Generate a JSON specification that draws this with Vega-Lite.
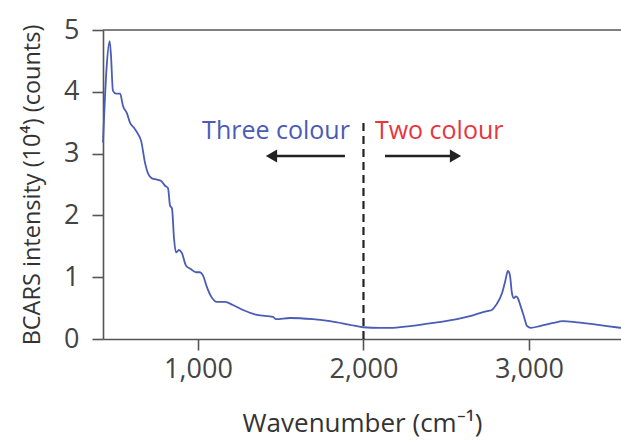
{
  "$schema": "https://vega.github.io/schema/vega-lite/v6.json",
  "width": 518,
  "height": 309,
  "autosize": "none",
  "padding": {"left": 103, "top": 30, "right": 0, "bottom": 104},
  "background": "white",
  "config": {
    "view": {"stroke": null},
    "font": "Open Sans",
    "axis": {
      "domainColor": "#555555",
      "domainWidth": 1.6,
      "tickColor": "#555555",
      "tickWidth": 1.6,
      "tickSize": 11,
      "labelColor": "#444444",
      "labelFont": "Open Sans",
      "labelFontSize": 27,
      "labelFontWeight": "normal",
      "titleColor": "#333333",
      "titleFont": "Open Sans",
      "titleFontWeight": "normal",
      "grid": false
    }
  },
  "datasets": {
    "spectrum": [
      {"wn": 426, "v": 3.18}, {"wn": 448, "v": 4.4}, {"wn": 466, "v": 4.82},
      {"wn": 474, "v": 4.6}, {"wn": 486, "v": 4.02}, {"wn": 505, "v": 3.97},
      {"wn": 529, "v": 3.97}, {"wn": 547, "v": 3.77}, {"wn": 571, "v": 3.65},
      {"wn": 589, "v": 3.5}, {"wn": 613, "v": 3.42}, {"wn": 637, "v": 3.32},
      {"wn": 656, "v": 3.21}, {"wn": 680, "v": 2.85}, {"wn": 698, "v": 2.68},
      {"wn": 722, "v": 2.6}, {"wn": 752, "v": 2.58}, {"wn": 776, "v": 2.56},
      {"wn": 801, "v": 2.48}, {"wn": 819, "v": 2.44}, {"wn": 831, "v": 2.16},
      {"wn": 843, "v": 2.11}, {"wn": 855, "v": 1.63}, {"wn": 867, "v": 1.4},
      {"wn": 885, "v": 1.44}, {"wn": 903, "v": 1.39}, {"wn": 927, "v": 1.19},
      {"wn": 958, "v": 1.13}, {"wn": 988, "v": 1.08}, {"wn": 1012, "v": 1.08},
      {"wn": 1030, "v": 1.03}, {"wn": 1054, "v": 0.84}, {"wn": 1079, "v": 0.69},
      {"wn": 1115, "v": 0.6}, {"wn": 1163, "v": 0.6}, {"wn": 1211, "v": 0.55},
      {"wn": 1272, "v": 0.47}, {"wn": 1356, "v": 0.39}, {"wn": 1453, "v": 0.36},
      {"wn": 1471, "v": 0.32}, {"wn": 1556, "v": 0.34}, {"wn": 1695, "v": 0.32},
      {"wn": 1798, "v": 0.29}, {"wn": 1918, "v": 0.23}, {"wn": 1997, "v": 0.19},
      {"wn": 2100, "v": 0.18}, {"wn": 2160, "v": 0.18}, {"wn": 2281, "v": 0.21},
      {"wn": 2444, "v": 0.27}, {"wn": 2565, "v": 0.32}, {"wn": 2643, "v": 0.37},
      {"wn": 2704, "v": 0.42}, {"wn": 2746, "v": 0.45}, {"wn": 2776, "v": 0.47},
      {"wn": 2801, "v": 0.55}, {"wn": 2837, "v": 0.74}, {"wn": 2855, "v": 0.92},
      {"wn": 2873, "v": 1.1}, {"wn": 2885, "v": 1.03}, {"wn": 2897, "v": 0.74},
      {"wn": 2909, "v": 0.66}, {"wn": 2921, "v": 0.69}, {"wn": 2933, "v": 0.66},
      {"wn": 2946, "v": 0.56}, {"wn": 2970, "v": 0.36}, {"wn": 2988, "v": 0.21},
      {"wn": 3012, "v": 0.18}, {"wn": 3066, "v": 0.21}, {"wn": 3145, "v": 0.26},
      {"wn": 3205, "v": 0.29}, {"wn": 3290, "v": 0.27}, {"wn": 3387, "v": 0.24},
      {"wn": 3471, "v": 0.21}, {"wn": 3556, "v": 0.18}
    ],
    "arrows": [
      {"from": 1888, "to": 1460, "y": 2.96, "head": 1444, "shape": "triangle-left"},
      {"from": 2130, "to": 2540, "y": 2.96, "head": 2556, "shape": "triangle-right"}
    ],
    "regions": [
      {"wn": 1918, "y": 3.24, "label": "Three colour", "align": "right", "colour": "#4a5cb5"},
      {"wn": 2069, "y": 3.24, "label": "Two colour", "align": "left", "colour": "#e8363f"}
    ],
    "frame": [{"x0": 426, "x1": 3556, "top": 5, "divider": 2000, "dbottom": 0, "dtop": 3.56}]
  },
  "layer": [
    {
      "data": {"name": "frame"},
      "mark": {"type": "rule", "color": "#555555", "strokeWidth": 1.6},
      "encoding": {
        "x": {"field": "x0", "type": "quantitative", "scale": {"domain": [426, 3556], "nice": false, "zero": false},
              "axis": {"values": [1000, 2000, 3000], "format": ",d", "title": "Wavenumber (cm⁻¹)", "titleFontSize": 26, "labelPadding": 6, "titlePadding": 28}},
        "x2": {"field": "x1"},
        "y": {"field": "top", "type": "quantitative", "scale": {"domain": [0, 5], "nice": false},
              "axis": {"values": [0, 1, 2, 3, 4, 5], "format": "d", "title": "BCARS intensity (10⁴) (counts)", "titleFontSize": 23.5, "labelPadding": 13, "titlePadding": 19}}
      }
    },
    {
      "data": {"name": "frame"},
      "mark": {"type": "rule", "color": "#222222", "strokeWidth": 2.2, "strokeDash": [8, 5]},
      "encoding": {
        "x": {"field": "divider", "type": "quantitative"},
        "y": {"field": "dbottom", "type": "quantitative"},
        "y2": {"field": "dtop"}
      }
    },
    {
      "data": {"name": "spectrum"},
      "mark": {"type": "line", "color": "#4a5cb5", "strokeWidth": 1.8, "interpolate": "monotone"},
      "encoding": {
        "x": {"field": "wn", "type": "quantitative"},
        "y": {"field": "v", "type": "quantitative"}
      }
    },
    {
      "data": {"name": "arrows"},
      "mark": {"type": "rule", "color": "#222222", "strokeWidth": 2.6},
      "encoding": {
        "x": {"field": "from", "type": "quantitative"},
        "x2": {"field": "to"},
        "y": {"field": "y", "type": "quantitative"}
      }
    },
    {
      "data": {"name": "arrows"},
      "mark": {"type": "point", "filled": true, "color": "#222222", "size": 170, "opacity": 1},
      "encoding": {
        "x": {"field": "head", "type": "quantitative"},
        "y": {"field": "y", "type": "quantitative"},
        "shape": {"field": "shape", "type": "nominal", "scale": null}
      }
    },
    {
      "data": {"name": "regions"},
      "transform": [{"filter": "datum.align == 'right'"}],
      "mark": {"type": "text", "align": "right", "baseline": "alphabetic", "fontSize": 25, "font": "Open Sans"},
      "encoding": {
        "x": {"field": "wn", "type": "quantitative"},
        "y": {"field": "y", "type": "quantitative"},
        "text": {"field": "label"},
        "color": {"field": "colour", "type": "nominal", "scale": null}
      }
    },
    {
      "data": {"name": "regions"},
      "transform": [{"filter": "datum.align == 'left'"}],
      "mark": {"type": "text", "align": "left", "baseline": "alphabetic", "fontSize": 25, "font": "Open Sans"},
      "encoding": {
        "x": {"field": "wn", "type": "quantitative"},
        "y": {"field": "y", "type": "quantitative"},
        "text": {"field": "label"},
        "color": {"field": "colour", "type": "nominal", "scale": null}
      }
    }
  ]
}
